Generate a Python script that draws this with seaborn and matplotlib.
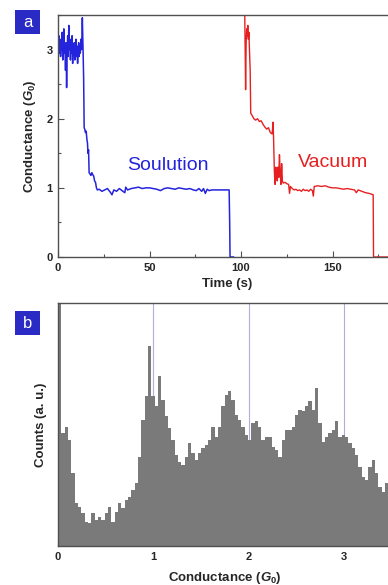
import numpy as np
import pandas as pd
import matplotlib
matplotlib.use('Agg')
import matplotlib.pyplot as plt
from matplotlib.patches import Rectangle
from matplotlib.ticker import MultipleLocator
import seaborn as sns

# Panel a: conductance traces (time in s, conductance in G0)
sol_time = [0.0, 0.2, 0.5, 0.8, 1.1, 1.4, 1.7, 2.0, 2.3, 2.6, 2.9, 3.2, 3.5, 3.8, 4.1, 4.4,
            4.7, 5.0, 5.3, 5.6, 5.9, 6.2, 6.5, 6.8, 7.1, 7.4, 7.7, 8.0, 8.3, 8.6, 8.9, 9.2,
            9.5, 9.8, 10.1, 10.4, 10.7, 11.0, 11.3, 11.6, 11.9, 12.2, 12.5, 12.8, 13.1, 13.3,
            13.6, 14.0, 14.3, 14.6, 15.0, 15.4, 15.8, 16.1, 16.4, 16.7, 17.0, 17.5, 18.0,
            18.5, 19.0, 19.5, 20.0, 20.5, 21.0, 21.5, 22.5, 24, 25.5, 27, 28.5, 29.5, 30.5,
            32, 33.5, 35, 36.5, 37, 38, 40, 42, 44, 46, 48, 50, 52, 54, 56, 58, 60, 62, 64,
            66, 68, 70, 72, 74, 75.5, 77, 78.5, 79.5, 80.5, 81.5, 82.5, 84, 87, 90, 93.5,
            93.8, 94.0, 96.0]
sol_cond = [3.6, 3.05, 3.2, 2.95, 3.15, 2.9, 3.1, 3.0, 3.25, 2.85, 3.1, 3.3, 2.95, 3.05, 2.7, 3.1,
            2.45, 3.0, 3.2, 2.9, 3.35, 3.0, 3.15, 2.85, 3.1, 2.95, 3.2, 2.8, 3.05, 2.95, 3.1, 2.85,
            3.0, 3.15, 2.9, 3.05, 2.8, 3.0, 3.1, 2.9, 3.05, 2.95, 3.15, 3.0, 3.2, 3.46,
            3.1, 2.6, 1.87, 1.85, 1.8, 1.82, 1.7, 1.65, 1.5, 1.55, 1.22, 1.2, 1.18,
            1.22, 1.19, 1.17, 1.1, 1.08, 1.0, 0.97, 0.98, 0.95, 0.97, 0.99, 0.94, 0.9, 0.97,
            0.95, 0.99, 0.96, 0.93, 1.01, 0.97, 0.99, 1.0, 1.01, 0.99, 1.0, 1.0, 0.99, 0.98, 0.96, 0.99, 1.0, 0.99, 0.98,
            1.0, 0.99, 0.98, 0.99, 0.97, 0.96, 0.99, 0.95, 0.99, 0.92, 0.98, 0.96, 0.97, 0.97, 0.97, 0.97,
            0.5, 0.0, 0.0]

vac_time = [102.0, 102.3, 102.5, 102.8, 103.1, 103.4, 103.7, 104.0, 104.3, 104.6, 105.0, 105.3,
            106, 107, 108, 109, 110, 111, 112, 113, 114, 115, 116, 117, 117.5, 117.8, 118.2,
            118.6, 119, 119.4, 119.8, 120.2, 120.6, 121, 121.4, 121.8, 122.2, 122.6, 123, 124,
            125, 126, 126.5, 127, 128, 129, 130, 131, 132, 133, 134, 135, 136, 137, 138, 139,
            139.5, 140, 142, 144, 146, 148, 150, 152, 154, 156, 158, 160, 162, 163, 164, 166,
            168, 170, 172.2, 172.4, 185]
vac_cond = [3.6, 2.9, 2.42, 3.1, 3.3, 3.2, 3.35, 3.15, 3.25, 3.0, 2.7, 2.08,
            2.05, 2.0, 1.98, 2.0, 1.96, 1.97, 1.92, 1.88, 1.85, 1.87, 1.8, 1.78, 1.95, 1.7, 1.25,
            1.05, 1.3, 1.2, 1.1, 1.3, 1.15, 1.48, 1.22, 1.05, 1.35, 1.1, 1.07, 1.08,
            1.06, 1.05, 0.92, 1.02, 0.99, 0.97, 0.98, 0.96, 0.97, 0.95, 0.98, 0.96, 0.97, 0.95, 0.98, 0.96,
            0.88, 1.02, 1.03, 1.02, 1.03, 1.01, 1.0, 1.0, 0.99, 0.98, 0.99, 0.98, 0.97, 0.93, 0.97, 0.95,
            0.93, 0.92, 0.9, 0.0, 0.0]

# Panel b: conductance histogram, bin width 0.035 G0 from 0 to 3.5
bin_width = 0.035
hist_counts = [740, 338, 358, 318, 218, 128, 118, 98, 73, 68,
               98, 78, 88, 78, 98, 118, 73, 103, 128, 113,
               138, 148, 168, 188, 268, 378, 448, 598, 448, 418,
               508, 438, 388, 353, 318, 273, 253, 243, 268, 308,
               278, 258, 278, 293, 303, 318, 358, 328, 358, 418,
               453, 463, 438, 393, 378, 358, 333, 318, 368, 373,
               358, 318, 328, 328, 298, 288, 268, 318, 348, 348,
               358, 393, 408, 403, 418, 433, 408, 473, 368, 313,
               328, 338, 348, 373, 328, 333, 328, 308, 293, 273,
               238, 208, 198, 238, 258, 218, 178, 163, 188, 193]
ref_lines = [1, 2, 3]

sns.set_style('ticks')
plt.rcParams['font.family'] = ['Liberation Sans', 'DejaVu Sans']
plt.rcParams['mathtext.fontset'] = 'custom'
plt.rcParams['mathtext.it'] = 'Liberation Sans:italic:bold'
plt.rcParams['mathtext.rm'] = 'Liberation Sans:bold'
plt.rcParams['mathtext.bf'] = 'Liberation Sans:bold'

fig = plt.figure(figsize=(3.88, 5.85), dpi=100)
W, H = 388, 585
ax1 = fig.add_axes([58 / W, 1 - 257 / H, 338.6 / W, 242 / H])
ax2 = fig.add_axes([58 / W, 1 - 546 / H, 333.6 / W, 243 / H])

blue = '#2424dc'
red = '#e62020'

sol = pd.DataFrame({'time': sol_time, 'cond': sol_cond})
vac = pd.DataFrame({'time': vac_time, 'cond': vac_cond})
sns.lineplot(data=sol, x='time', y='cond', ax=ax1, color=blue, lw=1.1,
             estimator=None, sort=False)
sns.lineplot(data=vac, x='time', y='cond', ax=ax1, color=red, lw=1.0,
             estimator=None, sort=False)

ax1.set_xlim(0, 185)
ax1.set_ylim(0, 3.5)
ax1.xaxis.set_major_locator(MultipleLocator(50))
ax1.xaxis.set_minor_locator(MultipleLocator(25))
ax1.yaxis.set_major_locator(MultipleLocator(1))
ax1.yaxis.set_minor_locator(MultipleLocator(0.5))
ax1.set_xlabel('Time (s)', fontsize=9.5, fontweight='bold', labelpad=4)
ax1.set_ylabel('Conductance ($G_0$)', fontsize=9.5, fontweight='bold', labelpad=6)
ax1.text(38, 1.33, 'Soulution', color=blue, fontsize=14, va='center')
ax1.text(131, 1.36, 'Vacuum', color=red, fontsize=14, va='center')

# histogram
n_bins = len(hist_counts)
hist_df = pd.DataFrame({'center': (np.arange(n_bins) + 0.5) * bin_width,
                        'count': np.array(hist_counts, dtype=float)})
for v in ref_lines:
    ax2.axvline(v, color='#aeaee2', lw=0.8, zorder=0)
sns.histplot(data=hist_df, x='center', weights='count', binwidth=bin_width,
             binrange=(0, n_bins * bin_width), ax=ax2, element='step',
             fill=True, color='#7a7a7a', alpha=1, linewidth=0, zorder=2)
ax2.set_xlim(0, 3.5)
ax2.set_ylim(0, 728)
ax2.xaxis.set_major_locator(MultipleLocator(1))
ax2.set_yticks([])
ax2.set_xlabel('Conductance ($G_0$)', fontsize=9.5, fontweight='bold', labelpad=6)
ax2.set_ylabel('Counts (a. u.)', fontsize=9.5, fontweight='bold', labelpad=8)

for ax in (ax1, ax2):
    for s in ax.spines.values():
        s.set_color('#505050')
        s.set_linewidth(1.0)
    ax.tick_params(which='major', direction='in', length=4, width=0.8,
                   labelsize=8, color='#505050', pad=4)
    ax.tick_params(which='minor', direction='in', length=2, width=0.8, color='#505050')
    for lab in ax.get_xticklabels() + ax.get_yticklabels():
        lab.set_fontweight('bold')

# panel letters in blue boxes
for letter, ytop in (('a', 10), ('b', 311)):
    fig.add_artist(Rectangle((15 / W, 1 - (ytop + 24) / H), 25 / W, 24 / H,
                             transform=fig.transFigure, fc='#2a2ac4', ec='none'))
    fig.text(27.5 / W, 1 - (ytop + 12.5) / H, letter, color='white', fontsize=12,
             ha='center', va='center')

fig.savefig('out.png', dpi=100)
